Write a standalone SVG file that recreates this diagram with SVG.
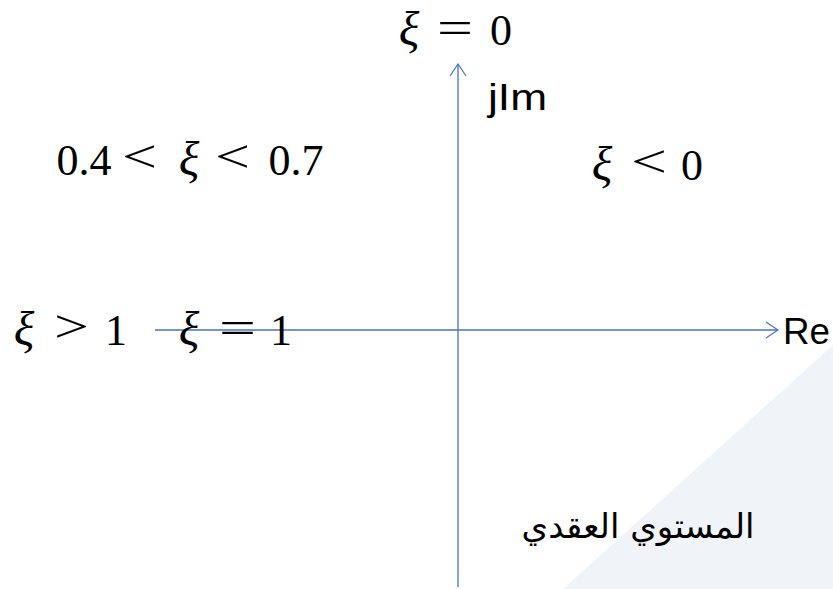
<svg xmlns="http://www.w3.org/2000/svg" width="833" height="589" viewBox="0 0 833 589">
<style>
.m{font-family:"Liberation Serif","DejaVu Serif",serif;font-size:44px;fill:#000;text-anchor:middle}
.o{font-family:"Liberation Serif","DejaVu Serif",serif;font-size:46px;fill:#000}
.x{font-family:"Liberation Serif","DejaVu Serif",serif;font-style:italic;font-size:48px;fill:#000;text-anchor:middle}
.s{font-family:"Liberation Sans",Arial,sans-serif;font-size:37px;fill:#000}
.a{font-family:"DejaVu Sans","Noto Sans",sans-serif;font-size:34px;fill:#000;text-anchor:middle}
.ax{stroke:#4472c4;stroke-width:1.3;fill:none}
</style>
<defs>
<marker id="arr" viewBox="0 0 14 18" refX="13" refY="9" markerWidth="14" markerHeight="18" markerUnits="userSpaceOnUse" orient="auto">
<path d="M1,1 L13,9 L1,17" fill="none" stroke="#4472c4" stroke-width="1.2"/>
</marker>
</defs>
<rect width="833" height="589" fill="#fff"/>
<polygon points="833,345 833,589 563,589" fill="#f0f3f7"/>
<g id="connectors">
<line class="ax" x1="458" y1="587" x2="458" y2="64" marker-end="url(#arr)"/>
<line class="ax" x1="155" y1="330" x2="778" y2="330" marker-end="url(#arr)"/>
</g>
<g id="label-xi0">
<text class="x" x="409" y="45">ξ</text><text class="o" x="437" y="43" textLength="36" lengthAdjust="spacingAndGlyphs">=</text><text class="m" x="501" y="45">0</text>
</g>
<g id="label-jim"><text class="s" x="488" y="110" textLength="59" lengthAdjust="spacingAndGlyphs">jIm</text></g>
<g id="label-mid">
<text class="m" x="84" y="175">0.4</text><text class="o" x="122" y="172" textLength="35" lengthAdjust="spacingAndGlyphs">&lt;</text><text class="x" x="189" y="175">ξ</text><text class="o" x="215" y="172" textLength="35" lengthAdjust="spacingAndGlyphs">&lt;</text><text class="m" x="296" y="175">0.7</text>
</g>
<g id="label-neg">
<text class="x" x="602" y="180">ξ</text><text class="o" x="631" y="177" textLength="36" lengthAdjust="spacingAndGlyphs">&lt;</text><text class="m" x="692" y="180">0</text>
</g>
<g id="label-gt1">
<text class="x" x="24" y="345">ξ</text><text class="o" x="54" y="342" textLength="35" lengthAdjust="spacingAndGlyphs">&gt;</text><text class="m" x="116" y="345">1</text>
</g>
<g id="label-eq1">
<text class="x" x="189" y="345">ξ</text><text class="o" x="219" y="343" textLength="37" lengthAdjust="spacingAndGlyphs">=</text><text class="m" x="281" y="345">1</text>
</g>
<g id="label-re"><text class="s" x="783" y="344" textLength="47" lengthAdjust="spacingAndGlyphs">Re</text></g>
<g id="label-plane"><text class="a" x="638" y="538">المستوي العقدي</text></g>
</svg>
